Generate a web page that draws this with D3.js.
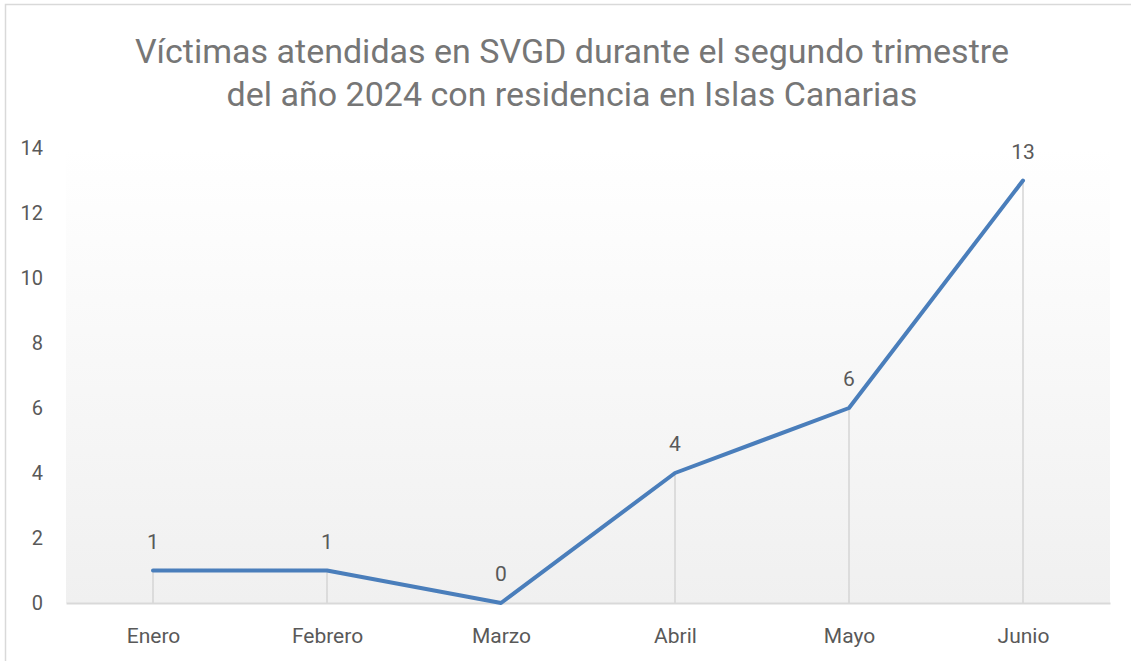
<!DOCTYPE html>
<html lang="es">
<head>
<meta charset="UTF-8">
<title>Víctimas atendidas en SVGD</title>
<script src="https://d3js.org/d3.v7.min.js"></script>
<style>
  body { margin: 0; background: #fff; }
  text { font-family: Roboto, "DejaVu Sans", sans-serif; }
</style>
</head>
<body>
<svg width="1131" height="661"></svg>
<script>
// data
var meses = ["Enero", "Febrero", "Marzo", "Abril", "Mayo", "Junio"];
var victimas = [1, 1, 0, 4, 6, 13];
var yTicks = [0, 2, 4, 6, 8, 10, 12, 14];
var titulo = ["Víctimas atendidas en SVGD durante el segundo trimestre",
              "del año 2024 con residencia en Islas Canarias"];

var margin = {top: 148, right: 21, bottom: 58, left: 66};
var W = 1131, H = 661;
var width = W - margin.left - margin.right,
    height = H - margin.top - margin.bottom;

var root = d3.select("svg");

// gradient for plot area
var defs = root.append("defs");
var grad = defs.append("linearGradient")
  .attr("id", "fondo")
  .attr("x1", 0).attr("y1", 0).attr("x2", 0).attr("y2", 1);
grad.append("stop").attr("offset", "0%").attr("stop-color", "#ffffff");
grad.append("stop").attr("offset", "100%").attr("stop-color", "#f0f0f0");

// chart border
root.append("rect")
  .attr("x", 5.5).attr("y", 4.5)
  .attr("width", W).attr("height", H)
  .attr("fill", "none")
  .attr("stroke", "#d9d9d9")
  .attr("stroke-width", 1.5);

// title
root.append("text")
  .attr("x", 572)
  .attr("y", 63)
  .attr("text-anchor", "middle")
  .style("font-size", "34px")
  .style("fill", "#767676")
  .selectAll("tspan")
  .data(titulo)
  .enter()
  .append("tspan")
  .attr("x", 572)
  .attr("dy", function(d, i) { return i === 0 ? 0 : 43; })
  .text(function(d) { return d; });

var svg = root.append("g")
  .attr("transform", "translate(" + margin.left + "," + margin.top + ")");

var x = d3.scalePoint()
  .domain(meses)
  .range([0, width])
  .padding(0.5);

var y = d3.scaleLinear()
  .domain([0, 14])
  .range([height, 0]);

svg.append("rect")
  .attr("width", width)
  .attr("height", height)
  .attr("fill", "url(#fondo)");

// drop lines
svg.selectAll(".drop")
  .data(victimas)
  .enter()
  .append("line")
  .attr("class", "drop")
  .attr("x1", function(d, i) { return x(meses[i]); })
  .attr("x2", function(d, i) { return x(meses[i]); })
  .attr("y1", function(d) { return y(d); })
  .attr("y2", height)
  .attr("stroke", "#d4d4d4")
  .attr("stroke-width", 1.5);

// y axis
var yAxis = svg.append("g")
  .call(d3.axisLeft(y).tickValues(yTicks).tickSize(0).tickPadding(23));
yAxis.select(".domain").remove();
yAxis.selectAll("text")
  .style("font-size", "20px")
  .style("fill", "#595959")
  .style("font-family", "Roboto, sans-serif");

// x axis
var xAxis = svg.append("g")
  .attr("transform", "translate(0," + height + ")")
  .call(d3.axisBottom(x).tickSize(0).tickPadding(25));
xAxis.select(".domain")
  .attr("stroke", "#d9d9d9")
  .attr("stroke-width", 2);
xAxis.selectAll("text")
  .style("font-size", "21px")
  .style("fill", "#595959")
  .style("font-family", "Roboto, sans-serif");

// line
var line = d3.line()
  .x(function(d, i) { return x(meses[i]); })
  .y(function(d) { return y(d); });

svg.append("path")
  .datum(victimas)
  .attr("d", line)
  .attr("fill", "none")
  .attr("stroke", "#4a7ebb")
  .attr("stroke-width", 4)
  .attr("stroke-linejoin", "round")
  .attr("stroke-linecap", "round");

// data labels
svg.selectAll(".etiqueta")
  .data(victimas)
  .enter()
  .append("text")
  .attr("class", "etiqueta")
  .attr("x", function(d, i) { return x(meses[i]); })
  .attr("y", function(d) { return y(d) - 22; })
  .attr("text-anchor", "middle")
  .style("font-size", "21px")
  .style("fill", "#595959")
  .text(function(d) { return d; });
</script>
</body>
</html>
